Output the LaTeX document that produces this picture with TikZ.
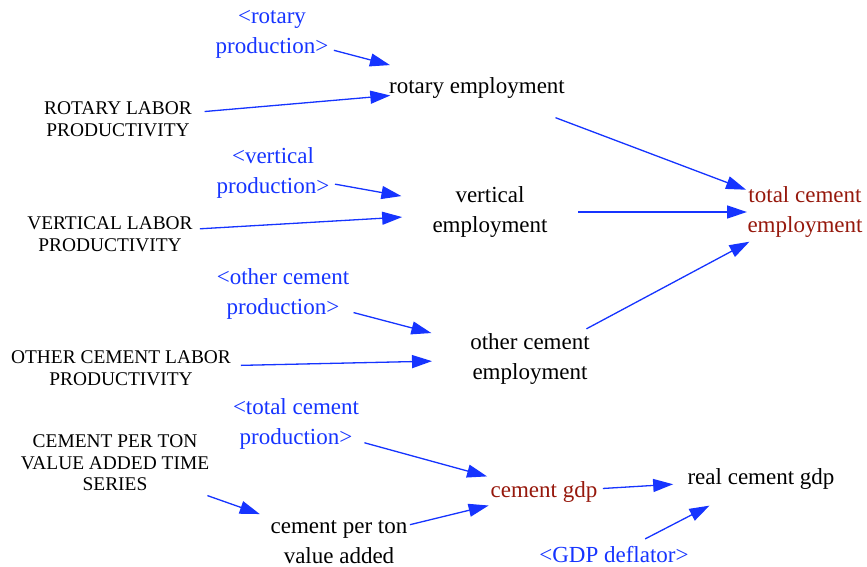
\documentclass[tikz,border=0pt]{standalone}
\usepackage{fontspec}
\setmainfont{Liberation Serif}
\usetikzlibrary{arrows.meta}
\definecolor{linkblue}{RGB}{22,52,255}
\definecolor{auxred}{RGB}{150,24,12}
\tikzset{
  var/.style={align=center,inner sep=0pt,font=\fontsize{23}{30}\selectfont},
  shadow/.style={var,text=linkblue},
  keyvar/.style={var,text=auxred},
  const/.style={align=center,inner sep=0pt,font=\fontsize{19.4}{21.5}\selectfont},
  conn/.style={draw=linkblue,line width=1.3pt,
    -{Triangle[length=20pt,width=13pt]},fill=linkblue},
}
\begin{document}
\begin{tikzpicture}[x=1pt,y=-1pt]
\useasboundingbox (0,0) rectangle (867,567);
% rotary kilns
\node[shadow] (rp) at (272,34) {<rotary\\production>};
\node[var] (re) at (477,88) {rotary employment};
\node[const] (rl) at (118,119) {ROTARY LABOR\\PRODUCTIVITY};
% vertical kilns
\node[shadow] (vp) at (273,173) {<vertical\\production>};
\node[var] (ve) at (490,212) {vertical\\employment};
\node[const] (vl) at (110,234) {VERTICAL LABOR\\PRODUCTIVITY};
% total employment
\node[keyvar] (te) at (805,212) {total cement\\employment};
% other cement
\node[shadow] (op) at (283,294) {<other cement\\production>};
\node[var] (oe) at (530,359) {other cement\\employment};
\node[const] (ol) at (121,368) {OTHER CEMENT LABOR\\PRODUCTIVITY};
% value added
\node[shadow] (tp) at (296,424) {<total cement\\production>};
\node[const] (ct) at (115,463) {CEMENT PER TON\\VALUE ADDED TIME\\SERIES};
\node[var] (cv) at (339,542) {cement per ton\\value added};
\node[keyvar] (gdp) at (544,492) {cement gdp};
\node[var] (rg) at (761,479) {real cement gdp};
\node[shadow] (gd) at (614,555) {<GDP deflator>};
% links
\draw[conn,shorten <=64pt,shorten >=90pt] (rp.center) -- (re.center);
\draw[conn,shorten <=87pt,shorten >=87pt] (rl.center) -- (re.center);
\draw[conn,shorten <=84pt,shorten >=63pt] (re.center) -- (te.center);
\draw[conn,shorten <=63pt,shorten >=90pt] (vp.center) -- (ve.center);
\draw[conn,shorten <=90pt,shorten >=88pt] (vl.center) -- (ve.center);
\draw[conn,shorten <=88pt,shorten >=58pt] (ve.center) -- (te.center);
\draw[conn,shorten <=64pt,shorten >=63pt] (oe.center) -- (te.center);
\draw[conn,shorten <=73pt,shorten >=102pt] (op.center) -- (oe.center);
\draw[conn,shorten <=120pt,shorten >=98pt] (ol.center) -- (oe.center);
\draw[conn,shorten <=71pt,shorten >=59pt] (tp.center) -- (gdp.center);
\draw[conn,shorten <=98pt,shorten >=84pt] (ct.center) -- (cv.center);
\draw[conn,shorten <=73pt,shorten >=57pt] (cv.center) -- (gdp.center);
\draw[conn,shorten <=59pt,shorten >=88pt] (gdp.center) -- (rg.center);
\draw[conn,shorten <=35pt,shorten >=58pt] (gd.center) -- (rg.center);
\end{tikzpicture}
\end{document}
